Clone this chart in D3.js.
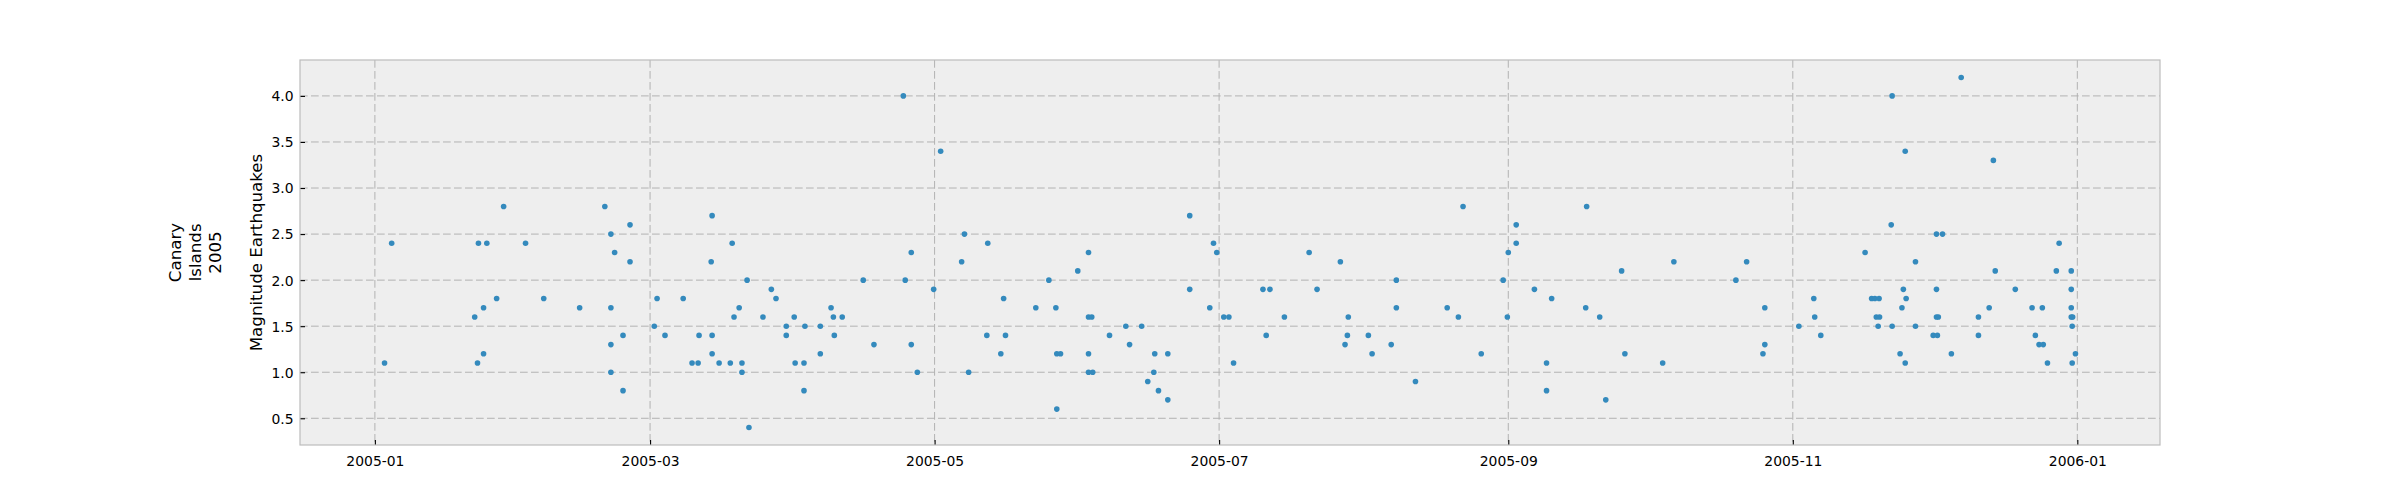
<!DOCTYPE html>
<html>
<head>
<meta charset="utf-8">
<script src="https://cdn.jsdelivr.net/npm/d3@7"></script>
<style>
  html, body { margin: 0; padding: 0; background: #ffffff; }
  svg { display: block; font-family: "DejaVu Sans", sans-serif; }
</style>
</head>
<body>
<svg id="chart" width="2400" height="500"></svg>
<script>
// Day of year 2005 (fractional days since 2005-01-01 00:00 UTC) for each quake
const days = [
  2.07, 3.6, 21.4, 22.0, 22.2, 23.3, 23.3, 24.0, 26.1, 27.6, 32.3, 36.2, 43.9, 49.3, 50.6, 50.6, 50.6, 50.6, 51.4,
  53.2, 53.2, 54.7, 54.7, 59.9, 60.5, 62.2, 66.1, 68.0, 69.3, 69.5, 72.1, 72.3, 72.3, 72.3, 73.8, 76.2, 76.6, 77.0,
  78.1, 78.7, 78.7, 79.8, 80.2, 83.2, 85.0, 86.0, 88.2, 88.2, 89.9, 90.1, 92.0, 92.0, 92.2, 95.5, 95.5, 97.8, 98.3,
  98.5, 100.2, 104.7, 107.0, 113.3, 113.7, 115.0, 115.0, 116.3,
  119.8, 121.3, 125.8, 126.4, 127.3, 131.2, 131.4, 134.2, 134.8, 135.2, 141.7, 144.5, 146.0, 146.2, 146.2, 147.0,
  150.7, 153.0, 153.0, 153.7, 153.0, 153.0, 153.9, 157.5, 161.0, 161.8, 164.4, 165.7, 167.0, 167.2, 168.0, 170.0,
  170.0, 174.7, 174.7, 179.0, 179.8, 180.5, 182.0, 183.1, 184.1,
  190.4, 191.1, 191.9, 195.0, 200.3, 202.0, 207.0, 208.0, 208.5, 208.7, 213.0, 213.8, 217.9, 219.0, 219.0, 223.1,
  229.9, 232.3, 233.3, 237.2, 241.9, 242.8, 243.0, 244.7, 244.7, 248.6, 251.2, 251.2, 252.3,
  259.6, 259.8, 262.6, 263.9, 267.3, 268.0, 276.1, 278.5, 291.8, 294.1, 297.6, 298.0, 298.0, 305.3, 308.5, 308.7, 310.0,
  319.5, 320.9, 321.6, 322.5, 321.9, 322.6, 322.3, 325.1, 325.3, 325.3, 327.0, 327.4, 327.7, 328.1, 328.1, 328.3,
  330.3, 330.3, 334.1, 334.8, 334.8, 334.8, 335.2, 335.0, 336.1, 338.0, 340.1, 343.8, 343.8, 346.1, 347.0, 347.4,
  351.7, 355.3, 356.0, 356.8, 357.7, 357.5, 358.6, 360.5, 361.1, 363.7, 363.7, 363.7, 363.7, 364.0, 363.9, 363.9, 364.6
];
const magnitudes = [
  1.1, 2.4, 1.6, 1.1, 2.4, 1.7, 1.2, 2.4, 1.8, 2.8, 2.4, 1.8, 1.7, 2.8, 2.5, 1.7, 1.3, 1.0, 2.3,
  1.4, 0.8, 2.6, 2.2, 1.5, 1.8, 1.4, 1.8, 1.1, 1.1, 1.4, 2.2, 2.7, 1.4, 1.2, 1.1, 1.1, 2.4, 1.6,
  1.7, 1.1, 1.0, 2.0, 0.4, 1.6, 1.9, 1.8, 1.5, 1.4, 1.6, 1.1, 1.1, 0.8, 1.5, 1.5, 1.2, 1.7, 1.6,
  1.4, 1.6, 2.0, 1.3, 4.0, 2.0, 2.3, 1.3, 1.0,
  1.9, 3.4, 2.2, 2.5, 1.0, 1.4, 2.4, 1.2, 1.8, 1.4, 1.7, 2.0, 1.7, 1.2, 0.6, 1.2,
  2.1, 2.3, 1.6, 1.6, 1.2, 1.0, 1.0, 1.4, 1.5, 1.3, 1.5, 0.9, 1.0, 1.2, 0.8, 1.2,
  0.7, 2.7, 1.9, 1.7, 2.4, 2.3, 1.6, 1.6, 1.1,
  1.9, 1.4, 1.9, 1.6, 2.3, 1.9, 2.2, 1.3, 1.4, 1.6, 1.4, 1.2, 1.3, 2.0, 1.7, 0.9,
  1.7, 1.6, 2.8, 1.2, 2.0, 1.6, 2.3, 2.6, 2.4, 1.9, 1.1, 0.8, 1.8,
  1.7, 2.8, 1.6, 0.7, 2.1, 1.2, 1.1, 2.2, 2.0, 2.2, 1.2, 1.3, 1.7, 1.5, 1.8, 1.6, 1.4,
  2.3, 1.8, 1.8, 1.8, 1.6, 1.6, 1.5, 2.6, 4.0, 1.5, 1.2, 1.7, 1.9, 3.4, 1.1, 1.8,
  2.2, 1.5, 1.4, 2.5, 1.9, 1.6, 1.6, 1.4, 2.5, 1.2, 4.2, 1.6, 1.4, 1.7, 3.3, 2.1,
  1.9, 1.7, 1.4, 1.3, 1.3, 1.7, 1.1, 2.1, 2.4, 2.1, 1.9, 1.7, 1.6, 1.6, 1.5, 1.1, 1.2
];
const yTickValues = [0.5, 1.0, 1.5, 2.0, 2.5, 3.0, 3.5, 4.0];
const yLabel = "Magnitude Earthquakes";
const groupLabel = ["Canary", "Islands", "2005"];

const yearStart = Date.UTC(2005, 0, 1);
const DAY = 86400000;
const points = days.map((d, i) => ({ date: new Date(yearStart + d * DAY), mag: magnitudes[i] }));

const W = 2400, H = 500;
const margin = { left: 300, right: 240, top: 60, bottom: 55 };
const iw = W - margin.left - margin.right;
const ih = H - margin.top - margin.bottom;

const svg = d3.select("#chart");
const g = svg.append("g").attr("transform", `translate(${margin.left},${margin.top})`);

// matplotlib-like 5% padding
const xExt = d3.extent(points, p => +p.date);
const xPad = (xExt[1] - xExt[0]) * 0.05;
const yExt = d3.extent(points, p => p.mag);
const yPad = (yExt[1] - yExt[0]) * 0.05;

const x = d3.scaleUtc().domain([new Date(xExt[0] - xPad), new Date(xExt[1] + xPad)]).range([0, iw]);
const y = d3.scaleLinear().domain([yExt[0] - yPad, yExt[1] + yPad]).range([ih, 0]);

const xTicks = x.ticks(d3.utcMonth.every(2));

// background
g.append("rect").attr("width", iw).attr("height", ih).attr("fill", "#eeeeee");

// grid
const grid = g.append("g").attr("stroke", "#b2b2b2").attr("stroke-width", 1).attr("stroke-dasharray", "7.7,3.3");
grid.selectAll("line.gy").data(yTickValues).join("line")
  .attr("x1", 0).attr("x2", iw).attr("y1", d => y(d)).attr("y2", d => y(d));
grid.selectAll("line.gx").data(xTicks).join("line")
  .attr("y1", 0).attr("y2", ih).attr("x1", d => x(d)).attr("x2", d => x(d));

// points
g.append("g").selectAll("circle").data(points).join("circle")
  .attr("cx", p => x(p.date)).attr("cy", p => y(p.mag)).attr("r", 2.8)
  .attr("fill", "#348ABD");

// axes (inward ticks)
const xAxis = d3.axisBottom(x).tickValues(xTicks).tickFormat(d3.utcFormat("%Y-%m")).tickSizeInner(-5).tickSizeOuter(0).tickPadding(11);
const yAxis = d3.axisLeft(y).tickValues(yTickValues).tickFormat(d3.format(".1f")).tickSizeInner(-5).tickSizeOuter(0).tickPadding(11);

const gx = g.append("g").attr("transform", `translate(0,${ih})`).call(xAxis);
const gy = g.append("g").call(yAxis);
[gx, gy].forEach(a => {
  a.select(".domain").remove();
  a.selectAll(".tick line").attr("stroke", "#000").attr("stroke-width", 1.1);
  a.selectAll(".tick text").attr("fill", "#000").style("font-size", "13.9px").style("font-family", "DejaVu Sans");
});
gy.selectAll(".tick text").attr("x", -6.5).attr("dy", "0.35em");

// frame
g.append("rect").attr("width", iw).attr("height", ih).attr("fill", "none")
  .attr("stroke", "#bcbcbc").attr("stroke-width", 1.2);

// y label
const cy = margin.top + ih / 2;
svg.append("text")
  .attr("transform", `translate(262,${cy}) rotate(-90)`)
  .attr("text-anchor", "middle")
  .style("font-size", "16.67px")
  .attr("fill", "#000")
  .text(yLabel);

// group label (three lines, rotated)
const gl = svg.append("text")
  .attr("transform", `translate(180.5,${cy}) rotate(-90)`)
  .attr("text-anchor", "middle")
  .style("font-size", "16.67px")
  .attr("fill", "#000");
groupLabel.forEach((t, i) => {
  gl.append("tspan").attr("x", 0).attr("y", i * 20).text(t);
});
</script>
</body>
</html>
